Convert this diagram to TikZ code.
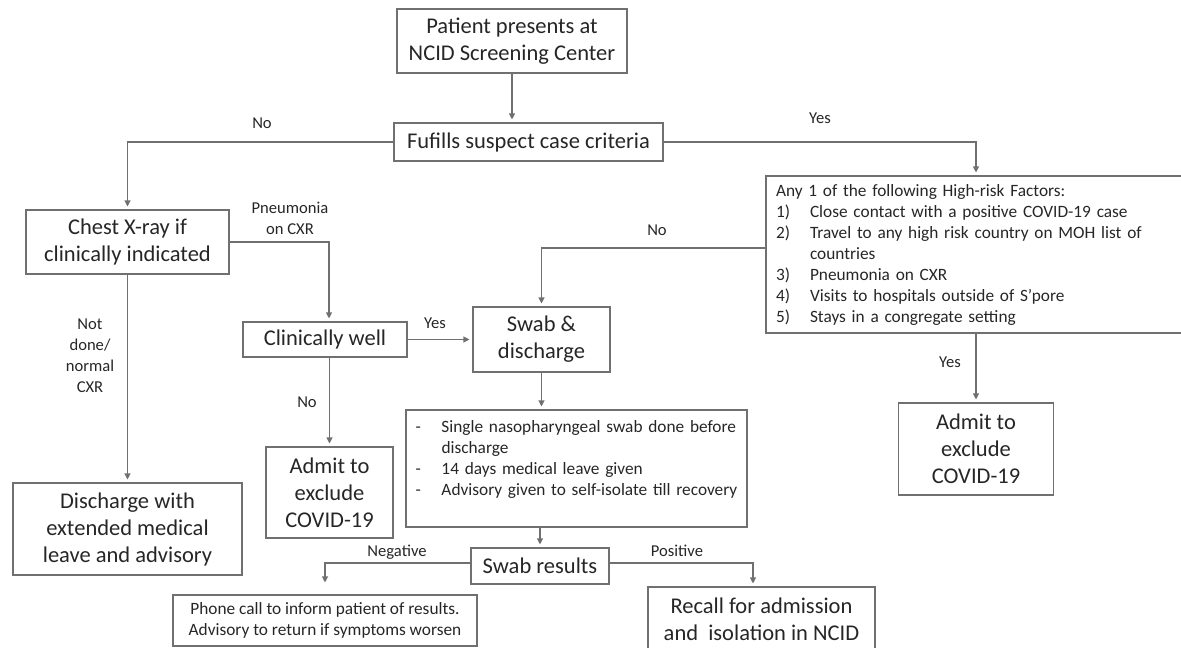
\documentclass[tikz,border=0pt]{standalone}
\usepackage{fontspec}
\setmainfont{Carlito}
\usetikzlibrary{arrows.meta}
\definecolor{txt}{HTML}{262626}
\definecolor{ln}{HTML}{707070}
\begin{document}
\begin{tikzpicture}[x=1pt,y=-1pt,
  box/.style={draw=ln, line width=1.1pt, text=txt, inner sep=0pt, align=center,
    font=\fontsize{22.5}{27}\selectfont},
  small/.style={draw=ln, line width=1.1pt, text=txt, align=left,
    font=\fontsize{17.3}{21}\selectfont},
  lab/.style={text=txt, font=\fontsize{16.6}{21}\selectfont, align=center, inner sep=0pt},
  conn/.style={draw=ln, line width=1.1pt, -{Triangle[width=6pt,length=6pt]}, shorten >=3pt},
]
\useasboundingbox (0,0) rectangle (1181,648);

% boxes
\node[box, minimum width=230pt, minimum height=64pt] (pat) at (512,41) {Patient presents at\\NCID Screening Center};
\node[box, minimum width=269pt, minimum height=38pt] (fuf) at (528.5,142) {Fufills suspect case criteria};
\node[box, minimum width=203pt, minimum height=64pt] (chest) at (127.5,242) {Chest X-ray if\\clinically indicated};
\node[small, text width=400pt, inner xsep=10pt, inner ysep=0pt, minimum height=157pt] (hr) at (976,254.5) {Any 1 of the following High-risk Factors:\\
\makebox[34pt][l]{1)}Close contact with a positive COVID-19 case\\
\makebox[34pt][l]{2)}Travel to any high risk country on MOH list of\\
\hspace*{34pt}countries\\
\makebox[34pt][l]{3)}Pneumonia on CXR\\
\makebox[34pt][l]{4)}Visits to hospitals outside of S’pore\\
\makebox[34pt][l]{5)}Stays in a congregate setting};
\node[box, minimum width=164pt, minimum height=35pt] (cw) at (325,339.5) {Clinically well};
\node[box, minimum width=137pt, minimum height=65pt] (swab) at (541.5,339.5) {Swab \&\\discharge};
\node[small, text width=322pt, inner xsep=9.5pt, inner ysep=0pt, minimum height=117pt] (bul) at (576.5,468.5) {\makebox[26pt][l]{-}Single nasopharyngeal swab done before\\
\hspace*{26pt}discharge\\
\makebox[26pt][l]{-}14 days medical leave given\\
\makebox[26pt][l]{-}Advisory given to self-isolate till recovery\\
\mbox{}};
\node[box, minimum width=127pt, minimum height=91pt] (adm1) at (329.5,492.5) {Admit to\\exclude\\COVID-19};
\node[box, minimum width=155pt, minimum height=92pt] (adm2) at (976,449) {Admit to\\exclude\\COVID-19};
\node[box, minimum width=229pt, minimum height=92pt] (dis) at (127.5,529) {Discharge with\\extended medical\\leave and advisory};
\node[box, minimum width=138pt, minimum height=36pt] (sr) at (540,566) {Swab results};
\node[small, align=center, inner sep=0pt, minimum width=304pt, minimum height=51pt] (phone) at (325,620.5) {Phone call to inform patient of results.\\Advisory to return if symptoms worsen};
\node[box, minimum width=227pt, minimum height=65pt] (recall) at (761.5,619.5) {Recall for admission\\and\ \ isolation in NCID};

% labels
\node[lab] (lno1) at (262,123) {No};
\node[lab] (lyes1) at (820,118) {Yes};
\node[lab] (lpn) at (290,218.5) {Pneumonia\\on CXR};
\node[lab] (lnd) at (90,356) {Not\\done/\\normal\\CXR};
\node[lab] (lno2) at (307,402) {No};
\node[lab] (lyes2) at (435,323) {Yes};
\node[lab] (lno3) at (657,230) {No};
\node[lab] (lyes3) at (950,362) {Yes};
\node[lab] (lneg) at (397,552) {Negative};
\node[lab] (lpos) at (677,551) {Positive};

% connectors
\draw[conn] (pat.south) -- (pat.south |- fuf.north);
\draw[conn] (fuf.west) -| (chest.north);
\draw[conn] (fuf.east) -| (hr.north);
\draw[conn] (chest.east) -| ([xshift=4pt]cw.north);
\draw[conn] (chest.south) -- (dis.north);
\draw[conn] (cw.east) -- (swab.west);
\draw[conn] (adm1.north |- cw.south) -- (adm1.north);
\draw[conn] ([yshift=6.5pt]hr.west) -| (swab.north);
\draw[conn] (hr.south) -- (adm2.north);
\draw[conn] (swab.south) -- (swab.south |- bul.north);
\draw[conn] (sr.north |- bul.south) -- (sr.north);
\draw[conn, shorten >=12pt] ([yshift=3pt]sr.west) -| (phone.north);
\draw[conn] ([yshift=3pt]sr.east) -| ([xshift=-8.5pt]recall.north);
\end{tikzpicture}
\end{document}
